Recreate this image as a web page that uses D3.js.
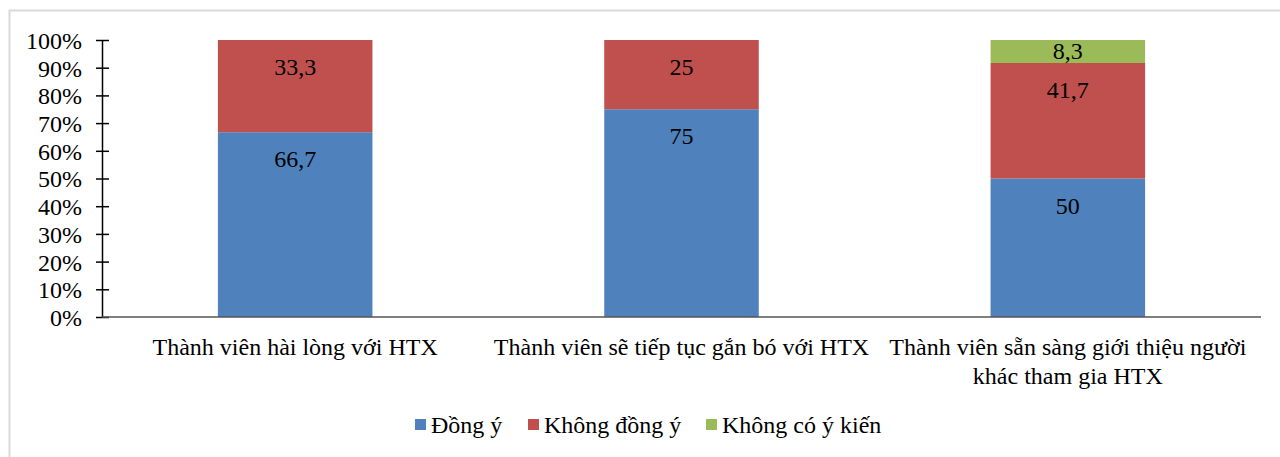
<!DOCTYPE html>
<html><head><meta charset="utf-8">
<script src="https://cdn.jsdelivr.net/npm/d3@7"></script>
<style>
body{margin:0;background:#fff;}
svg{display:block;}
</style></head>
<body><svg id="c" width="1280" height="457"></svg>
<script>
const categories = ["Thành viên hài lòng với HTX","Thành viên sẽ tiếp tục gắn bó với HTX","Thành viên sẵn sàng giới thiệu người khác tham gia HTX"];
const seriesNames = ["Đồng ý","Không đồng ý","Không có ý kiến"];
const dongY = [66.7, 75, 50];
const khongDongY = [33.3, 25, 41.7];
const khongYKien = [0, 0, 8.3];
const yTicks = [0,10,20,30,40,50,60,70,80,90,100];
const colors = ["#4F81BD","#C0504D","#9BBB59"];

const FONT = '"Liberation Serif"';
const FS = 24;
const svg = d3.select("#c");
svg.append("rect").attr("x",9.5).attr("y",10.5).attr("width",1300).attr("height",500)
  .attr("fill","#fff").attr("stroke","#d9d9d9").attr("stroke-width",2);

const pLeft=102, pRight=1261, pTop=40, pBottom=317;
const x = d3.scaleBand().domain(categories).range([pLeft,pRight]).paddingInner(0.6).paddingOuter(0.3);
const y = d3.scaleLinear().domain([0,100]).range([pBottom,pTop]);

const data = categories.map((c,i)=>({cat:c, s0:dongY[i], s1:khongDongY[i], s2:khongYKien[i]}));
const stack = d3.stack().keys(["s0","s1","s2"])(data);

const g = svg.append("g");
stack.forEach((layer,k)=>{
  g.selectAll(null).data(layer).enter().append("rect")
    .attr("x",d=>x(d.data.cat)).attr("width",x.bandwidth())
    .attr("y",d=>y(d[1])).attr("height",d=>y(d[0])-y(d[1]))
    .attr("fill",colors[k]);
  g.selectAll(null).data(layer.filter(d=>d[1]-d[0]>0)).enter().append("text")
    .attr("x",d=>x(d.data.cat)+x.bandwidth()/2)
    .attr("y",d=>Math.min(y(d[1])+27,(y(d[0])+y(d[1]))/2))
    .attr("text-anchor","middle").attr("dominant-baseline","central")
    .style("font-family",FONT).style("font-size",FS+"px").attr("fill","#000")
    .text(d=>String(Math.round((d[1]-d[0])*10)/10).replace(".",","));
});

// y axis
const yAxis = d3.axisLeft(y).tickValues(yTicks).tickFormat(d=>d+"%").tickSizeInner(6).tickSizeOuter(0).tickPadding(14);
const ya = svg.append("g").attr("transform",`translate(${pLeft},0)`).call(yAxis);
ya.attr("font-family",null).attr("font-size",null);
ya.select(".domain").attr("stroke","#000").attr("stroke-width",1.5);
ya.selectAll(".tick line").attr("x2",7).attr("x1",-6).attr("stroke","#000").attr("stroke-width",1.5);
ya.selectAll(".tick text").style("font-family",FONT).style("font-size",FS+"px").attr("fill","#000").attr("dy","0.35em");

// x axis
const xa = svg.append("g").attr("transform",`translate(0,${pBottom})`)
  .call(d3.axisBottom(x).tickSize(0).tickFormat(""));
xa.select(".domain").attr("d",`M${pLeft},0H${pRight}`).attr("stroke","#555").attr("stroke-width",1.5);

// category labels with wrapping
function wrap(text,width){
  const words=text.split(" "); const lines=[]; let cur="";
  const tmp=svg.append("text").style("font-family",FONT).style("font-size",FS+"px");
  words.forEach(w=>{
    const t=cur?cur+" "+w:w; tmp.text(t);
    if(tmp.node().getComputedTextLength()>width && cur){lines.push(cur);cur=w;} else cur=t;
  });
  lines.push(cur); tmp.remove(); return lines;
}
categories.forEach(c=>{
  const lines=wrap(c,380);
  const t=svg.append("text").attr("text-anchor","middle").style("font-family",FONT).style("font-size",FS+"px").attr("fill","#000");
  lines.forEach((l,i)=>t.append("tspan").attr("x",x(c)+x.bandwidth()/2).attr("y",pBottom+30+i*29).attr("dominant-baseline","central").text(l));
});

// legend
const legX=[415,528,706];
seriesNames.forEach((n,i)=>{
  svg.append("rect").attr("x",legX[i]).attr("y",419).attr("width",11).attr("height",11).attr("fill",colors[i]);
  svg.append("text").attr("x",legX[i]+16).attr("y",425).attr("dominant-baseline","central")
    .style("font-family",FONT).style("font-size",FS+"px").attr("fill","#000").text(n);
});
</script></body></html>
